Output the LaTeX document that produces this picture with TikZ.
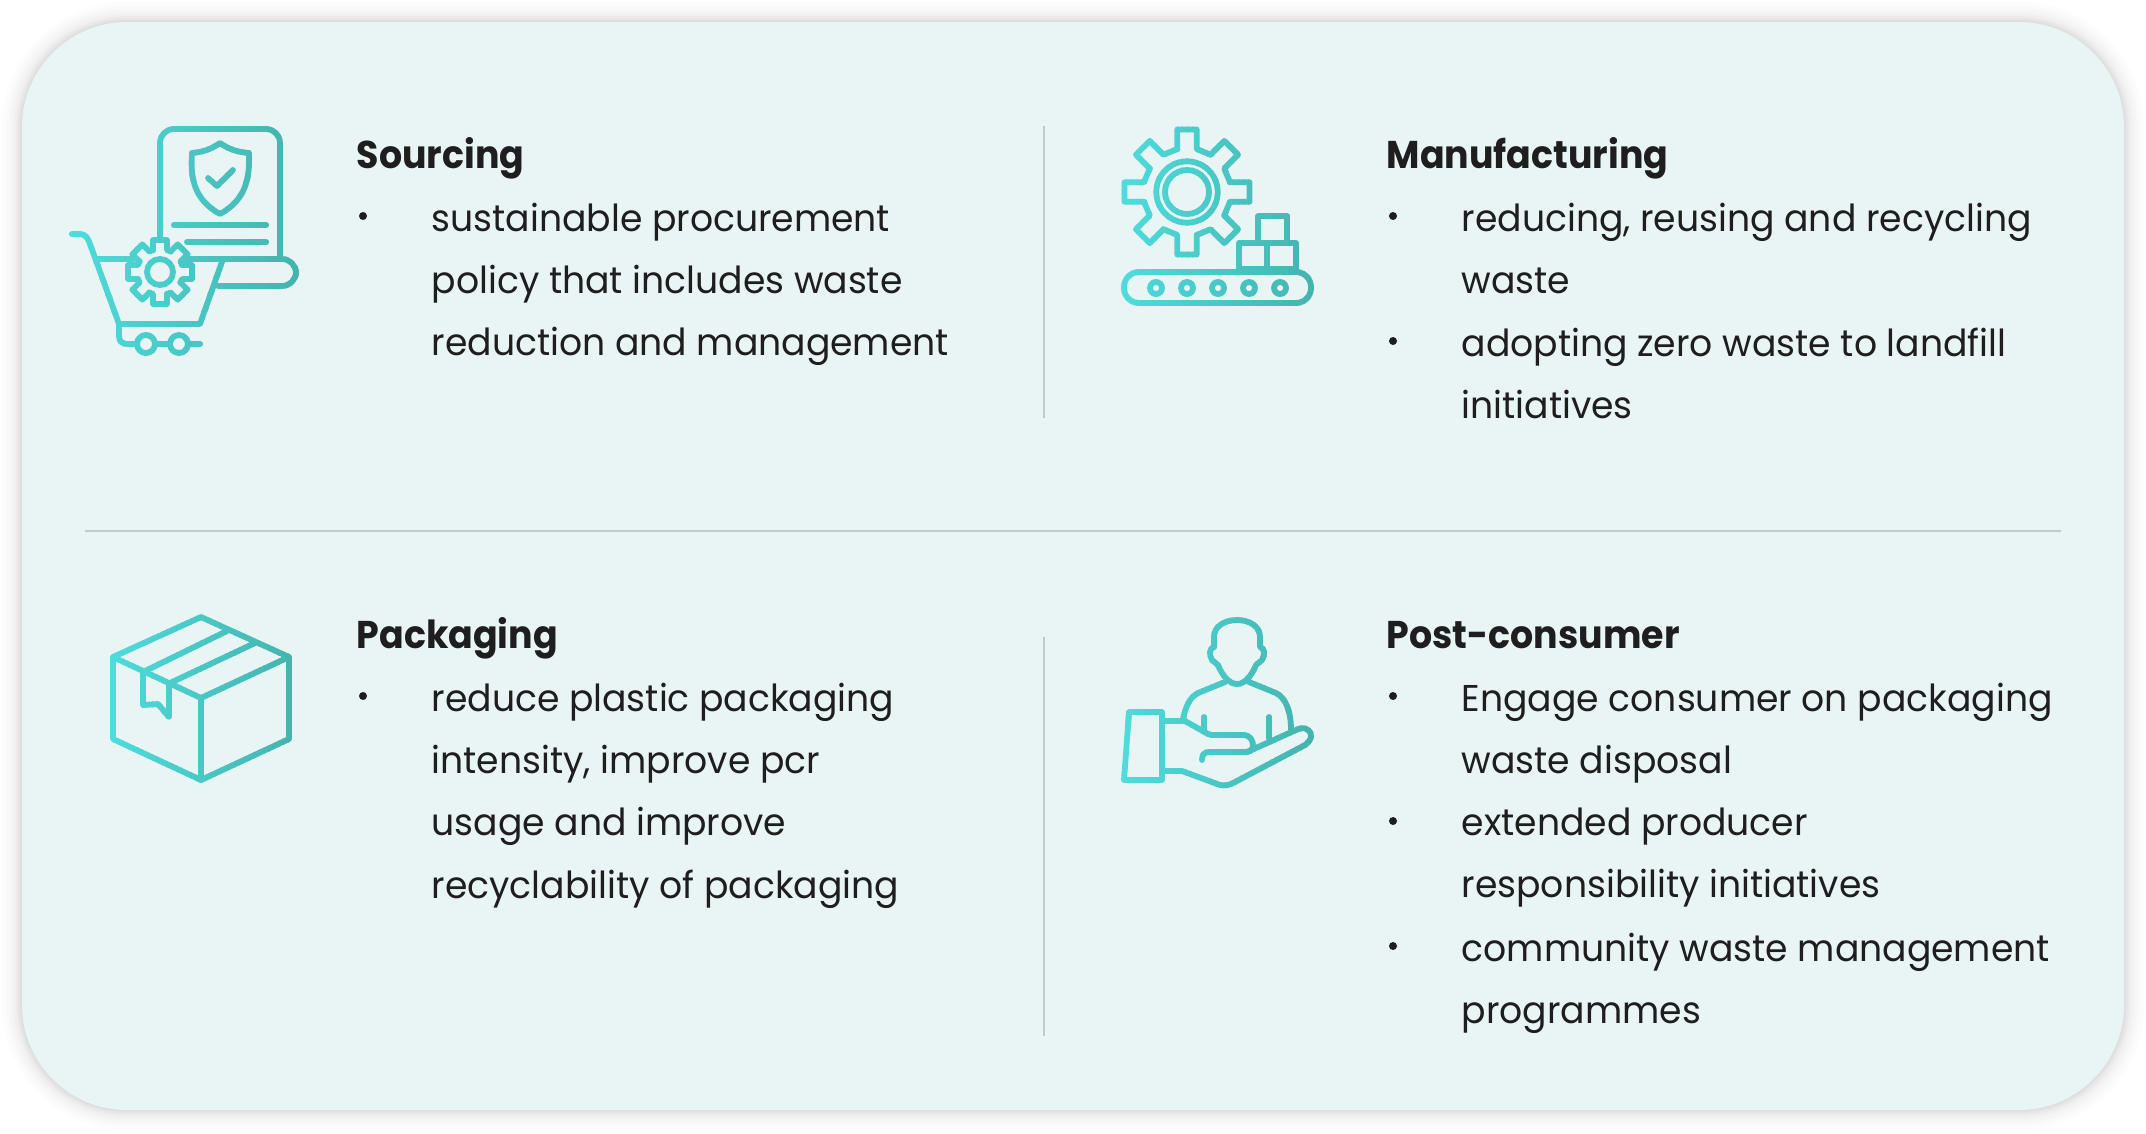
\documentclass[tikz,border=0pt]{standalone}
\usepackage{fontspec}
\setmainfont[FakeStretch=.97,BoldFeatures={FakeStretch=.94}]{Poppins}
\definecolor{cardfill}{HTML}{E9F5F5}
\definecolor{iconlight}{HTML}{4EDDDD}
\definecolor{icondark}{HTML}{44B2AD}
\definecolor{rulegrey}{HTML}{BCCBCB}
\definecolor{inktext}{HTML}{1E1E1E}
\tikzset{
  px/.style={x=.01cm,y=-.01cm},
  iconline/.style={line width=1.65pt,line cap=round,line join=round},
  titletext/.style={anchor=base west,inner sep=0pt,text=inktext,font=\fontsize{11}{15}\selectfont\bfseries},
  bodytext/.style={anchor=north west,inner sep=0pt,text=inktext,align=left,font=\fontsize{10.6}{17.75}\selectfont},
  bulletdot/.style={circle,fill=inktext,inner sep=0pt,minimum size=.08cm},
  dividerline/.style={rulegrey,line width=.35pt}
}
% gear outline: centre, valley radius, outer radius, half width of a tooth
\newcommand{\gearpath}[5]{
  \foreach \a in {0,45,...,315}{
    \draw[iconline] ([shift={(#1,#2)},rotate=\a]#3,-#5)
    -- ([shift={(#1,#2)},rotate=\a]#4,-#5)
    -- ([shift={(#1,#2)},rotate=\a]#4,#5)
    -- ([shift={(#1,#2)},rotate=\a]#3,#5)
    -- ([shift={(#1,#2)},rotate=\a-45]#3,-#5);
  }
}
% strips of colour across an icon: left, top, width, height, drawing
\newcommand{\gradicon}[5]{
  \foreach \i in {0,1,...,39}{
    \pgfmathsetmacro{\mixval}{100-2.5*\i}
    \begin{scope}[color=iconlight!\mixval!icondark]
      \clip (#1+\i*#3/40-.6,#2) rectangle (#1+\i*#3/40+#3/40+.6,#2+#4);
      #5
    \end{scope}
  }
}
\newcommand{\iconsourcing}{
  \draw[iconline,rounded corners=.14cm] (160,240) -- (160,129) -- (280,129) -- (280,258);
  \draw[iconline,rounded corners=.14cm] (185,259) -- (296,259) -- (296,286) -- (218,286);
  \draw[iconline] (220,143) .. controls (210,150) and (202,152) .. (192,153) .. controls (190,180) and (195,200) .. (220,214) .. controls (245,200) and (250,180) .. (249,153) .. controls (238,152) and (230,150) .. (220,143) -- cycle;
  \draw[iconline] (208,178) -- (217,186) -- (233,170);
  \draw[iconline] (174,225) -- (266,225);
  \draw[iconline] (187,242) -- (266,242);
  \gearpath{160}{272}{22}{32}{7}
  \draw[iconline] (160,272) circle[radius=13];
  \draw[iconline] (72,234) -- (80,234) .. controls (85,234) and (88,238) .. (90,244) -- (119,324) -- (200,324) -- (223,259) -- (185,259);
  \draw[iconline] (97,259) -- (133,259);
  \draw[iconline] (119,324) -- (119,336) .. controls (119,341) and (122,344) .. (127,344) -- (137,344);
  \draw[iconline] (146,344) circle[radius=9];
  \draw[iconline] (179,344) circle[radius=9];
  \draw[iconline] (155,344) -- (170,344);
  \draw[iconline] (188,344) -- (200,344);
}
\newcommand{\iconmanufacturing}{
  \gearpath{1187}{192}{43}{62.5}{9.7}
  \draw[iconline] (1187,192) circle[radius=30.7];
  \draw[iconline] (1187,192) circle[radius=22];
  \draw[iconline,rounded corners=.15cm] (1124,272) rectangle (1311,303);
  \draw[iconline] (1239,269) -- (1239,243) rectangle (1267,269);
  \draw[iconline] (1267,243) rectangle (1296,269);
  \draw[iconline] (1258,243) -- (1258,216) -- (1287,216) -- (1287,243);
  \foreach \x in {1156,1187,1218,1249,1280}
    \draw[iconline] (\x,288) circle[radius=6];
}
\newcommand{\iconpackaging}{
  \draw[iconline] (201,617) -- (289,657) -- (289,739) -- (201,780) -- (113,739) -- (113,657) -- cycle;
  \draw[iconline] (113,657) -- (201,698) -- (289,657);
  \draw[iconline] (201,698) -- (201,780);
  \draw[iconline] (143,672) -- (227,631);
  \draw[iconline] (170,683) -- (255,643);
  \draw[iconline] (143,672) -- (143,705) -- (158,704) -- (169,717) -- (169,683);
}
\newcommand{\iconconsumer}{
  \draw[iconline] (1214,647) -- (1214,637) .. controls (1214,626) and (1225,620) .. (1237,620) .. controls (1249,620) and (1260,626) .. (1260,637) -- (1260,647) .. controls (1265,648) and (1265,655) .. (1262,660) -- (1256,665) .. controls (1252,675) and (1245,684) .. (1237,684) .. controls (1229,684) and (1222,675) .. (1218,665) -- (1212,660) .. controls (1209,655) and (1209,648) .. (1214,647);
  \draw[iconline] (1225,682) -- (1198,693) .. controls (1190,697) and (1185,707) .. (1183,720);
  \draw[iconline] (1249,682) -- (1276,693) .. controls (1286,698) and (1291,712) .. (1291,730);
  \draw[iconline] (1204,717) -- (1204,731);
  \draw[iconline] (1269,717) -- (1269,738);
  \draw[iconline] (1129,712) -- (1162,712) -- (1162,780) -- (1124,780) -- cycle;
  \draw[iconline] (1162,721) -- (1185,721) -- (1208,734) .. controls (1210,735) and (1212,735) .. (1215,735) -- (1243,735) .. controls (1250,735) and (1253,740) .. (1253,746) .. controls (1252,750) and (1250,752) .. (1245,752) -- (1209,752) .. controls (1204,752) and (1202,755) .. (1202,760);
  \draw[iconline] (1162,771) -- (1182,771) -- (1220,785) .. controls (1225,786) and (1230,785) .. (1235,782) -- (1305,745) .. controls (1312,740) and (1313,733) .. (1308,730) .. controls (1304,727) and (1300,728) .. (1296,730) -- (1247,752);
}
\begin{document}
\begin{tikzpicture}[px]
  \useasboundingbox (0,0) rectangle (2146,1133);
  \fill[white] (0,0) rectangle (2146,1133);
  % soft shadow
  \foreach \s in {1,2,3,4,5,6,8,10,13,16,20}
    \fill[black,fill opacity=.01,rounded corners=1.05cm+\s*.01cm] (22-\s,22-\s) rectangle (2124+\s,1110+\s);
  \fill[cardfill,rounded corners=1.05cm] (22,22) rectangle (2124,1110);
  % dividers
  \coordinate (topmid) at (1044,126);
  \coordinate (topend) at (1044,418);
  \coordinate (lowmid) at (1044,637);
  \coordinate (lowend) at (1044,1036);
  \coordinate (ruleleft) at (85,531);
  \coordinate (ruleright) at (2061,531);
  \draw[dividerline] (topmid) -- (topend);
  \draw[dividerline] (lowmid) -- (lowend);
  \draw[dividerline] (ruleleft) -- (ruleright);
  % icons
  \gradicon{64}{120}{240}{235}{\iconsourcing}
  \gradicon{1116}{124}{204}{186}{\iconmanufacturing}
  \gradicon{104}{608}{194}{180}{\iconpackaging}
  \gradicon{1116}{612}{200}{180}{\iconconsumer}
  % sourcing
  \node[titletext] (sourcing) at (356,168) {Sourcing};
  \node[bulletdot] (sourcingdot) at (363,216) {};
  \node[bodytext] (sourcingtext) at (431,202) {sustainable procurement\\policy that includes waste\\reduction and management};
  % manufacturing
  \node[titletext] (manufacturing) at (1386,168) {Manufacturing};
  \node[bulletdot] (manufacturingdota) at (1393,216) {};
  \node[bodytext] (manufacturingtexta) at (1461,202) {reducing, reusing and recycling\\waste};
  \node[bulletdot] (manufacturingdotb) at (1393,341) {};
  \node[bodytext] (manufacturingtextb) at (1461,327) {adopting zero waste to landfill\\initiatives};
  % packaging
  \node[titletext] (packaging) at (356,648) {Packaging};
  \node[bulletdot] (packagingdot) at (363,696) {};
  \node[bodytext] (packagingtext) at (431,682) {reduce plastic packaging\\intensity, improve pcr\\usage and improve\\recyclability of packaging};
  % post-consumer
  \node[titletext] (consumer) at (1386,648) {Post-consumer};
  \node[bulletdot] (consumerdota) at (1393,696) {};
  \node[bodytext] (consumertexta) at (1461,682) {Engage consumer on packaging\\waste disposal};
  \node[bulletdot] (consumerdotb) at (1393,821) {};
  \node[bodytext] (consumertextb) at (1461,807) {extended producer\\responsibility initiatives};
  \node[bulletdot] (consumerdotc) at (1393,946) {};
  \node[bodytext] (consumertextc) at (1461,932) {community waste management\\programmes};
\end{tikzpicture}
\end{document}
